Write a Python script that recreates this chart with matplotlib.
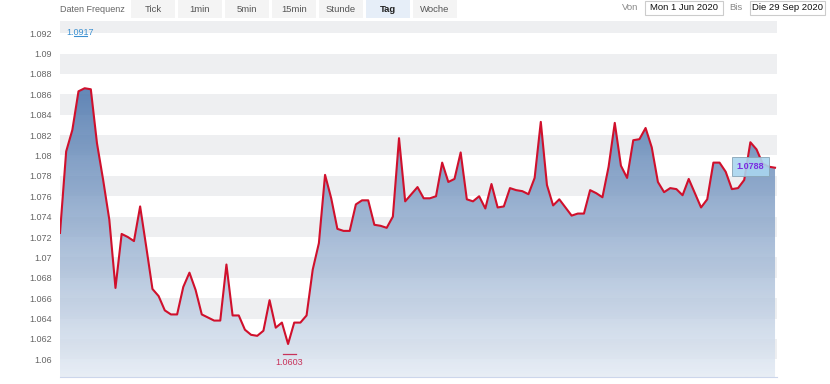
import numpy as np
import matplotlib
matplotlib.use("Agg")
import matplotlib.pyplot as plt
from matplotlib.colors import LinearSegmentedColormap
from matplotlib.patches import Rectangle

plt.rcParams["font.family"] = ["Liberation Sans", "DejaVu Sans"]

# daily EUR/CHF-like closes (1 Jun - 29 Sep 2020)
values = [
    1.0724, 1.0804, 1.0825, 1.0863, 1.0866, 1.0865, 1.0812, 1.0776, 1.0737, 1.0670,
    1.0723, 1.0720, 1.0716, 1.0750, 1.0710, 1.0669, 1.0662, 1.0648, 1.0644, 1.0644,
    1.0671, 1.0685, 1.0668, 1.0644, 1.0641, 1.0638, 1.0638, 1.0693, 1.0643, 1.0643,
    1.0629, 1.0624, 1.0623, 1.0628, 1.0658, 1.0631, 1.0636, 1.0615, 1.0636, 1.0636,
    1.0643, 1.0688, 1.0714, 1.0781, 1.0758, 1.0728, 1.0726, 1.0726, 1.0752, 1.0756,
    1.0756, 1.0732, 1.0731, 1.0729, 1.0740, 1.0817, 1.0755, 1.0762, 1.0769, 1.0758,
    1.0758, 1.0760, 1.0793, 1.0774, 1.0777, 1.0803, 1.0757, 1.0755, 1.0760, 1.0748,
    1.0772, 1.0749, 1.0750, 1.0768, 1.0766, 1.0765, 1.0762, 1.0778, 1.0833, 1.0771,
    1.0751, 1.0757, 1.0749, 1.0741, 1.0743, 1.0743, 1.0766, 1.0763, 1.0759, 1.0789,
    1.0832, 1.0790, 1.0778, 1.0815, 1.0816, 1.0827, 1.0808, 1.0774, 1.0764, 1.0768,
    1.0767, 1.0761, 1.0777, 1.0763, 1.0749, 1.0757, 1.0793, 1.0793, 1.0784, 1.0767,
    1.0768, 1.0776, 1.0813, 1.0806, 1.0792, 1.0789, 1.0788,
]
period_high = 1.0917
period_low = 1.0603
last_value = 1.0788
yticks = [1.060, 1.062, 1.064, 1.066, 1.068, 1.070, 1.072, 1.074, 1.076,
          1.078, 1.080, 1.082, 1.084, 1.086, 1.088, 1.090, 1.092]
buttons = ["Tick", "1min", "5min", "15min", "Stunde", "Tag", "Woche"]
active_button = "Tag"
date_from = "Mon 1 Jun 2020"
date_to = "Die 29 Sep 2020"

W, H = 830, 384
fig = plt.figure(figsize=(W / 100, H / 100), dpi=100)
ax = fig.add_axes([60 / W, 1 - 377 / H, 717 / W, 356 / H])

x = np.arange(len(values))
y = np.array(values)
ymin, ymax = 1.05826, 1.0932
ax.set_xlim(0, len(values) - 1 + 0.32)
ax.set_ylim(ymin, ymax)

# alternating grey bands
for lo in np.arange(1.060, 1.0935, 0.004):
    ax.axhspan(lo, lo + 0.002, color="#eeeff1", lw=0, zorder=0)

# gradient area under the line
cmap = LinearSegmentedColormap.from_list("area", ["#e4ebf4", "#24579a"])
grad = np.linspace(0, 1, 256).reshape(-1, 1)
poly = ax.fill_between(x, y, ymin, facecolor="none", lw=0)
im = ax.imshow(grad, cmap=cmap, origin="lower", aspect="auto", alpha=0.85,
               extent=[0, len(values) - 1, ymin, ymax], zorder=1)
im.set_clip_path(poly.get_paths()[0], transform=ax.transData)
ax.plot(x, y, color="#d0102c", lw=1.5, zorder=3, solid_joinstyle="round")

# axes styling
for s in ["top", "right", "left"]:
    ax.spines[s].set_visible(False)
ax.spines["bottom"].set_color("#ccd6eb")
ax.set_xticks([])
ax.set_yticks(yticks)
ax.set_yticklabels([f"{v:.3f}".rstrip("0") for v in yticks])
ax.tick_params(axis="y", length=0, pad=6, labelsize=6.5, labelcolor="#666666")

# high / low markers
imax = int(np.argmax(y)) - 0.7
imin = int(np.argmin(y)) + 0.2
ax.plot([imax - 1.1, imax + 1.1], [period_high, period_high], color="#3a8fd0", lw=0.8, zorder=4)
ax.text(imax, period_high - 0.0001, f"{period_high:.4f}", color="#3a8fd0", fontsize=6.5,
        ha="center", va="bottom", zorder=4)
ax.plot([imin - 1.1, imin + 1.1], [period_low + 0.0002, period_low + 0.0002],
        color="#c8325a", lw=0.9, zorder=4)
ax.text(imin, period_low - 0.0002, f"{period_low:.4f}", color="#c8325a", fontsize=6.5,
        ha="center", va="top", zorder=4)

# last value label
ax.text(len(values) - 5.0, last_value + 0.0001, f"{last_value:.4f}", color="#7a2ee0",
        fontsize=6.5, fontweight="bold", ha="center", va="center", zorder=5,
        bbox=dict(boxstyle="square,pad=0.55", fc="#a9d5ef", ec="#8aa6b8", lw=0.7, alpha=0.9))

# header controls
def px_rect(x0, y0, x1, y1, fc, ec="none"):
    fig.add_artist(Rectangle((x0 / W, 1 - y1 / H), (x1 - x0) / W, (y1 - y0) / H,
                             transform=fig.transFigure, fc=fc, ec=ec, lw=0.8))

fig.text(60 / W, 1 - 9 / H, "Daten Frequenz", fontsize=6.5, color="#666666", va="center")
for k, b in enumerate(buttons):
    x0 = 131 + k * 47
    active = b == active_button
    px_rect(x0, 0, x0 + 44, 18, "#e6eef8" if active else "#f4f4f4")
    fig.text((x0 + 22) / W, 1 - 9 / H, b, fontsize=6.8, ha="center", va="center",
             color="#222222" if active else "#555555",
             fontweight="bold" if active else "normal")

fig.text(630 / W, 1 - 8 / H, "Von", fontsize=6.8, color="#888888", ha="center", va="center")
px_rect(645, 1, 723, 15, "white", "#cccccc")
fig.text(684 / W, 1 - 8 / H, date_from, fontsize=6.8, color="#111111", ha="center", va="center")
fig.text(736 / W, 1 - 8 / H, "Bis", fontsize=6.8, color="#888888", ha="center", va="center")
px_rect(750, 1, 825, 15, "white", "#cccccc")
fig.text(787.5 / W, 1 - 8 / H, date_to, fontsize=6.8, color="#111111", ha="center", va="center")

fig.savefig("out.png", dpi=100)
